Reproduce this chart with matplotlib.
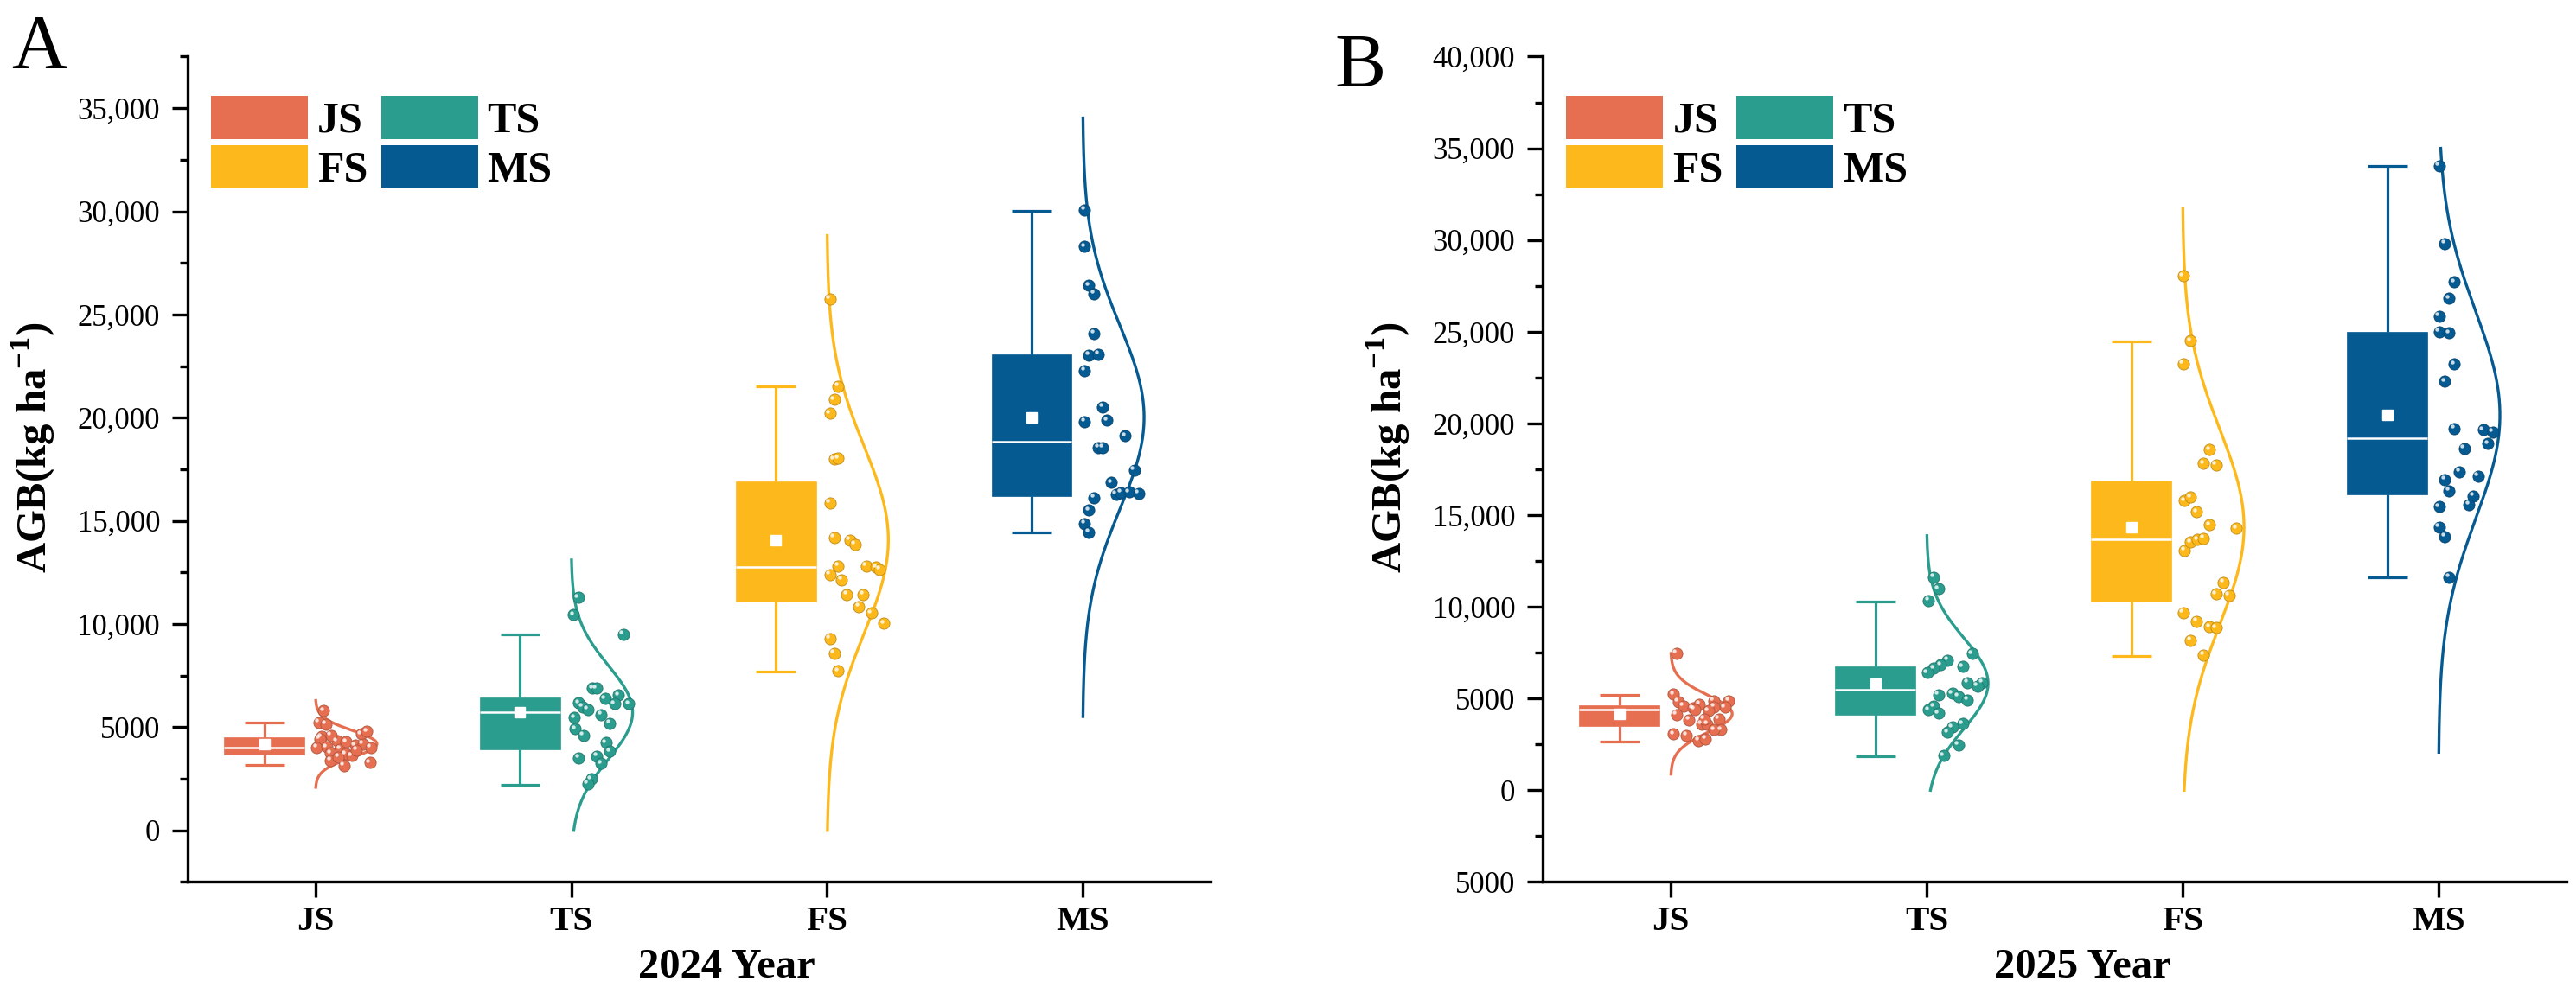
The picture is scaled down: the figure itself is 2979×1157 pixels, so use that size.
import matplotlib
matplotlib.use("Agg")
import matplotlib.pyplot as plt
import numpy as np
from matplotlib.patches import Patch
from matplotlib.ticker import MultipleLocator, AutoMinorLocator, FuncFormatter
from matplotlib.transforms import offset_copy
from matplotlib.colors import to_rgb

# ---- data ----
stages = ["JS", "TS", "FS", "MS"]
colors = ["#E76F51", "#2A9D8F", "#FDB91C", "#065A92"]

# 2024 points (kg ha-1) and their horizontal jitter (category units)
js_2024 = [5800, 5230, 5160, 4540, 4440, 4330, 4680, 4020, 4050, 3940, 4120, 4190,
           4020, 3740, 3700, 3390, 3140, 3280, 3630, 4300, 3900, 4600, 3560, 4800]
js_2024_dx = [0.032, 0.013, 0.040, 0.023, 0.017, 0.085, 0.179, 0.005, 0.043, 0.096, 0.156, 0.186,
              0.216, 0.058, 0.118, 0.058, 0.111, 0.212, 0.141, 0.120, 0.160, 0.060, 0.090, 0.200]
ts_2024 = [11290, 10450, 9500, 6887, 6887, 6398, 6566, 6147, 6147, 6175, 5981, 5868,
           5478, 5616, 5197, 4931, 4610, 4246, 3843, 3520, 3604, 3240, 2486, 2263]
ts_2024_dx = [0.027, 0.009, 0.203, 0.083, 0.098, 0.132, 0.185, 0.169, 0.226, 0.030, 0.045, 0.065,
              0.012, 0.118, 0.151, 0.015, 0.048, 0.135, 0.151, 0.030, 0.101, 0.118, 0.078, 0.065]
fs_2024 = [25770, 21530, 20880, 20210, 18000, 18030, 15880, 14200, 14080, 13860, 12820, 12820,
           12750, 12660, 12390, 12150, 11430, 11430, 10860, 10540, 10030, 9290, 8590, 7720]
fs_2024_dx = [0.012, 0.044, 0.028, 0.012, 0.028, 0.044, 0.012, 0.028, 0.090, 0.109, 0.044, 0.154,
              0.193, 0.206, 0.012, 0.057, 0.077, 0.141, 0.125, 0.174, 0.223, 0.012, 0.028, 0.044]
ms_2024 = [30080, 28300, 26420, 26010, 24090, 23030, 23080, 22280, 20530, 19810, 19880, 19130,
           18560, 18560, 17470, 16850, 16300, 16380, 16410, 16340, 16120, 15520, 14870, 14460]
ms_2024_dx = [0.008, 0.008, 0.024, 0.044, 0.044, 0.024, 0.062, 0.008, 0.079, 0.008, 0.096, 0.167,
              0.062, 0.079, 0.202, 0.113, 0.130, 0.150, 0.182, 0.218, 0.044, 0.024, 0.008, 0.024]

# 2025 points
js_2025 = [7481, 5227, 4835, 4598, 4489, 4692, 4882, 4882, 4537, 4550, 4126, 3856,
           4329, 3904, 3620, 3620, 3308, 3072, 2992, 2708, 2803, 4409, 3900, 3300]
js_2025_dx = [0.022, 0.011, 0.030, 0.049, 0.086, 0.112, 0.167, 0.227, 0.211, 0.169, 0.023, 0.071,
              0.147, 0.188, 0.121, 0.142, 0.197, 0.011, 0.061, 0.109, 0.136, 0.094, 0.130, 0.170]
ts_2025 = [11630, 10980, 10355, 7453, 7103, 6829, 6640, 6423, 6749, 5879, 5879, 5690,
           5204, 5284, 5118, 4929, 4580, 4391, 4197, 3630, 3441, 3167, 2491, 1895]
ts_2025_dx = [0.027, 0.047, 0.008, 0.178, 0.082, 0.054, 0.027, 0.003, 0.141, 0.159, 0.217, 0.199,
              0.047, 0.101, 0.124, 0.159, 0.027, 0.008, 0.047, 0.141, 0.101, 0.082, 0.124, 0.066]
fs_2025 = [28040, 24520, 23270, 18580, 17820, 17740, 15785, 15970, 15180, 14480, 14290, 13070,
           13530, 13670, 13750, 11330, 10710, 10630, 9680, 9215, 8918, 8866, 8190, 7373]
fs_2025_dx = [0.003, 0.031, 0.003, 0.105, 0.082, 0.131, 0.008, 0.031, 0.054, 0.105, 0.210, 0.008,
              0.031, 0.059, 0.082, 0.159, 0.131, 0.182, 0.003, 0.054, 0.105, 0.131, 0.031, 0.082]
ms_2025 = [34040, 29810, 27720, 26825, 25850, 25005, 24925, 23240, 22290, 19715, 19665, 19530,
           18900, 18635, 17380, 16950, 17140, 16325, 16055, 15590, 15460, 14345, 13830, 11630]
ms_2025_dx = [0.003, 0.024, 0.061, 0.042, 0.003, 0.003, 0.042, 0.061, 0.024, 0.061, 0.175, 0.212,
              0.194, 0.101, 0.082, 0.024, 0.154, 0.042, 0.136, 0.119, 0.003, 0.003, 0.024, 0.042]

# box statistics (JS, TS, FS, MS)
q1_2024 = [3660, 3940, 11070, 16190]
med_2024 = [4024, 5730, 12750, 18820]
q3_2024 = [4527, 6450, 16915, 23050]
lo_2024 = [3185, 2210, 7700, 14460]
hi_2024 = [5240, 9510, 21510, 30030]

q1_2025 = [3497, 4116, 10300, 16135]
med_2025 = [4376, 5473, 13667, 19200]
q3_2025 = [4612, 6772, 16865, 24980]
lo_2025 = [2675, 1867, 7320, 11607]
hi_2025 = [5198, 10300, 24490, 34040]

# ---- style ----
plt.rcParams["font.family"] = ["Liberation Serif", "DejaVu Serif"]
plt.rcParams["mathtext.fontset"] = "custom"
plt.rcParams["mathtext.rm"] = "Liberation Serif"
plt.rcParams["mathtext.bf"] = "Liberation Serif:bold"


def fmt_tick(v, pos):
    v = abs(v)
    if v >= 10000:
        return f"{v:,.0f}"
    return f"{v:.0f}"


def darker(c, f=0.75):
    r, g, b = to_rgb(c)
    return (r * f, g * f, b * f)


def draw_panel(ax, points, offsets, q1, med, q3, lo, hi, ylim, xlabel):
    pos = np.arange(1, 5)
    stats = []
    for i in range(4):
        stats.append(dict(q1=q1[i], med=med[i], q3=q3[i], whislo=lo[i], whishi=hi[i],
                          mean=np.mean(points[i]), fliers=[]))
    bp = ax.bxp(stats, positions=pos - 0.2, widths=0.314, patch_artist=True,
                showmeans=True, showfliers=False, capwidths=0.155)
    for i, c in enumerate(colors):
        bp["boxes"][i].set(facecolor=c, edgecolor=c, linewidth=0.5)
        bp["medians"][i].set(color="white", linewidth=1.8)
        bp["means"][i].set(marker="s", markerfacecolor="white", markeredgecolor="white",
                           markersize=8)
        for ln in bp["whiskers"][2 * i:2 * i + 2] + bp["caps"][2 * i:2 * i + 2]:
            ln.set(color=c, linewidth=2.3, solid_capstyle="butt")

    # normal curve from each group's mean and sd, plus the points with a highlight
    hl = offset_copy(ax.transData, fig=ax.figure, x=-1.8, y=1.8, units="points")
    for i, c in enumerate(colors):
        vals = np.asarray(points[i], dtype=float)
        m, s = vals.mean(), vals.std(ddof=1)
        ys = np.linspace(max(0, m - 3.26 * s), min(35000, m + 3.26 * s), 400)
        xs = pos[i] + 0.24 * np.exp(-0.5 * ((ys - m) / s) ** 2)
        ax.plot(xs, ys, color=c, linewidth=2.4, zorder=3)
        px = pos[i] + np.asarray(offsets[i])
        ax.scatter(px, vals, s=90, color=c, edgecolors=darker(c), linewidths=0.6, zorder=4)
        ax.scatter(px, vals, s=10, color="white", alpha=0.8, linewidths=0,
                   transform=hl, zorder=5)

    ax.set_xlim(0.5, 4.5)
    ax.set_ylim(*ylim)
    ax.set_xticks(pos)
    ax.set_xticklabels(stages, fontsize=29.5, fontweight="bold")
    ax.yaxis.set_major_locator(MultipleLocator(5000))
    ax.yaxis.set_minor_locator(AutoMinorLocator(2))
    ax.yaxis.set_major_formatter(FuncFormatter(fmt_tick))
    ax.tick_params(axis="y", which="major", labelsize=25, length=13, width=2.4, pad=10)
    ax.tick_params(axis="y", which="minor", length=6.5, width=2.4)
    ax.tick_params(axis="x", which="major", length=13, width=2.4, pad=7)
    for sp in ["top", "right"]:
        ax.spines[sp].set_visible(False)
    for sp in ["left", "bottom"]:
        ax.spines[sp].set_linewidth(2.4)

    ax.set_ylabel(r"AGB(kg ha$^{\mathbf{-1}}$)", fontsize=35, fontweight="bold")
    ax.yaxis.set_label_coords(-0.128, 0.527)
    ax.set_xlabel(xlabel, fontsize=35, fontweight="bold")
    ax.xaxis.set_label_coords(0.527, -0.080)

    handles = [Patch(facecolor=colors[0], edgecolor="none"),
               Patch(facecolor=colors[2], edgecolor="none"),
               Patch(facecolor=colors[1], edgecolor="none"),
               Patch(facecolor=colors[3], edgecolor="none")]
    labels = [stages[0], stages[2], stages[1], stages[3]]
    ax.legend(handles, labels, ncol=2, loc="upper left", bbox_to_anchor=(0.023, 0.952),
              frameon=False, borderpad=0, borderaxespad=0, handlelength=2.24,
              handleheight=1.14, handletextpad=0.22, columnspacing=0.3, labelspacing=0.08,
              prop={"size": 36, "weight": "bold"})


fig = plt.figure(figsize=(29.79, 11.57), dpi=100)
ax1 = fig.add_axes([0.07284, 0.1180, 0.3971, 0.8254])
ax2 = fig.add_axes([0.5989, 0.1180, 0.3974, 0.8254])

draw_panel(ax1, [js_2024, ts_2024, fs_2024, ms_2024],
           [js_2024_dx, ts_2024_dx, fs_2024_dx, ms_2024_dx],
           q1_2024, med_2024, q3_2024, lo_2024, hi_2024, (-2500, 37500), "2024 Year")
draw_panel(ax2, [js_2025, ts_2025, fs_2025, ms_2025],
           [js_2025_dx, ts_2025_dx, fs_2025_dx, ms_2025_dx],
           q1_2025, med_2025, q3_2025, lo_2025, hi_2025, (-5000, 40000), "2025 Year")

fig.text(13 / 2979, 1 - 78 / 1157, "A", fontsize=64, va="baseline", ha="left")
fig.text(1543 / 2979, 1 - 100 / 1157, "B", fontsize=64, va="baseline", ha="left")

fig.savefig("out.png", dpi=100)
